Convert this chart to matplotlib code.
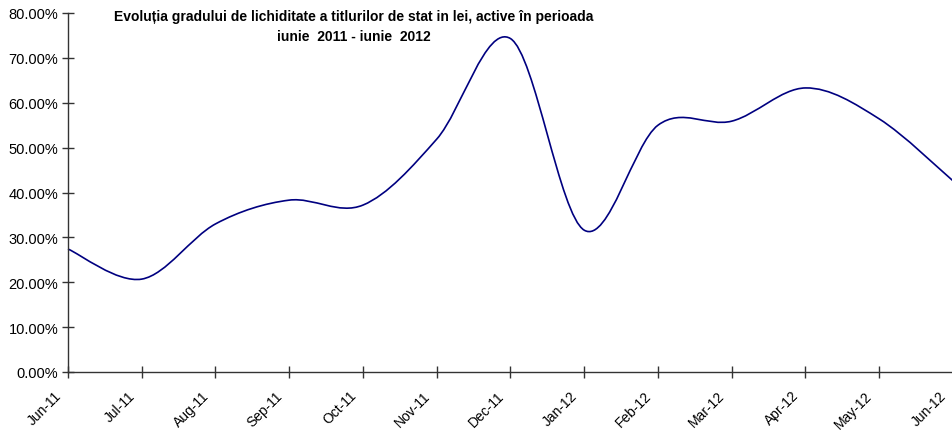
import numpy as np
import matplotlib.pyplot as plt
from matplotlib.path import Path
from matplotlib.patches import PathPatch
from matplotlib.ticker import PercentFormatter
from matplotlib.transforms import ScaledTranslation

plt.rcParams['font.family'] = ['Liberation Sans', 'DejaVu Sans']

# date lunare
luni = ['Jun-11', 'Jul-11', 'Aug-11', 'Sep-11', 'Oct-11', 'Nov-11', 'Dec-11',
        'Jan-12', 'Feb-12', 'Mar-12', 'Apr-12', 'May-12', 'Jun-12']
grad = [27.4, 20.7, 33.0, 38.3, 37.2, 51.9, 74.3,
        31.6, 55.0, 55.9, 63.3, 56.4, 42.6]

x = np.arange(len(luni), dtype=float)
y = np.array(grad)

# linie netezita ca in Excel (bezier cu puncte de control din vecini)
verts = [(x[0], y[0])]
codes = [Path.MOVETO]
n = len(x)
for i in range(n - 1):
    p0 = np.array([x[max(i - 1, 0)], y[max(i - 1, 0)]])
    p1 = np.array([x[i], y[i]])
    p2 = np.array([x[i + 1], y[i + 1]])
    p3 = np.array([x[min(i + 2, n - 1)], y[min(i + 2, n - 1)]])
    c1 = p1 + (p2 - p0) / 6
    c2 = p2 - (p3 - p1) / 6
    verts += [tuple(c1), tuple(c2), tuple(p2)]
    codes += [Path.CURVE4] * 3

fig = plt.figure(figsize=(9.53, 4.31), dpi=100)
ax = fig.add_axes([68 / 953, 1 - 373 / 431, 1 - 68 / 953, (373 - 14) / 431])

ax.add_patch(PathPatch(Path(verts, codes), facecolor='none', edgecolor='#000080',
                       lw=1.2, clip_on=False))

ax.set_xlim(0, 12)
ax.set_ylim(0, 80)
ax.set_yticks(np.arange(0, 81, 10))
ax.yaxis.set_major_formatter(PercentFormatter(decimals=2))
ax.set_xticks(x)
ax.set_xticklabels([])

for s in ['top', 'right']:
    ax.spines[s].set_visible(False)
for s in ['left', 'bottom']:
    ax.spines[s].set_color('#333333')
    ax.spines[s].set_linewidth(1)
ax.tick_params(direction='inout', length=8, width=1, color='#333333',
               labelsize=10.5, labelcolor='black')
ax.tick_params(axis='y', pad=3)

# etichete axa x, rotite 45 grade, capatul putin la stanga si sub diviziune
off = ScaledTranslation(-14 / 100, -16 / 100, fig.dpi_scale_trans)
for xi, lab in zip(x, luni):
    ax.text(xi, 0, lab, transform=ax.get_xaxis_transform() + off,
            rotation=45, ha='right', va='top', rotation_mode='anchor',
            fontsize=10, clip_on=False)

fig.text(354 / 953, 1 - 17 / 431,
         'Evoluția gradului de lichiditate a titlurilor de stat in lei, active în perioada',
         ha='center', va='center', fontsize=10, fontweight='bold')
fig.text(354 / 953, 1 - 37 / 431, 'iunie  2011 - iunie  2012',
         ha='center', va='center', fontsize=10, fontweight='bold')

fig.savefig('out.png', dpi=100)
